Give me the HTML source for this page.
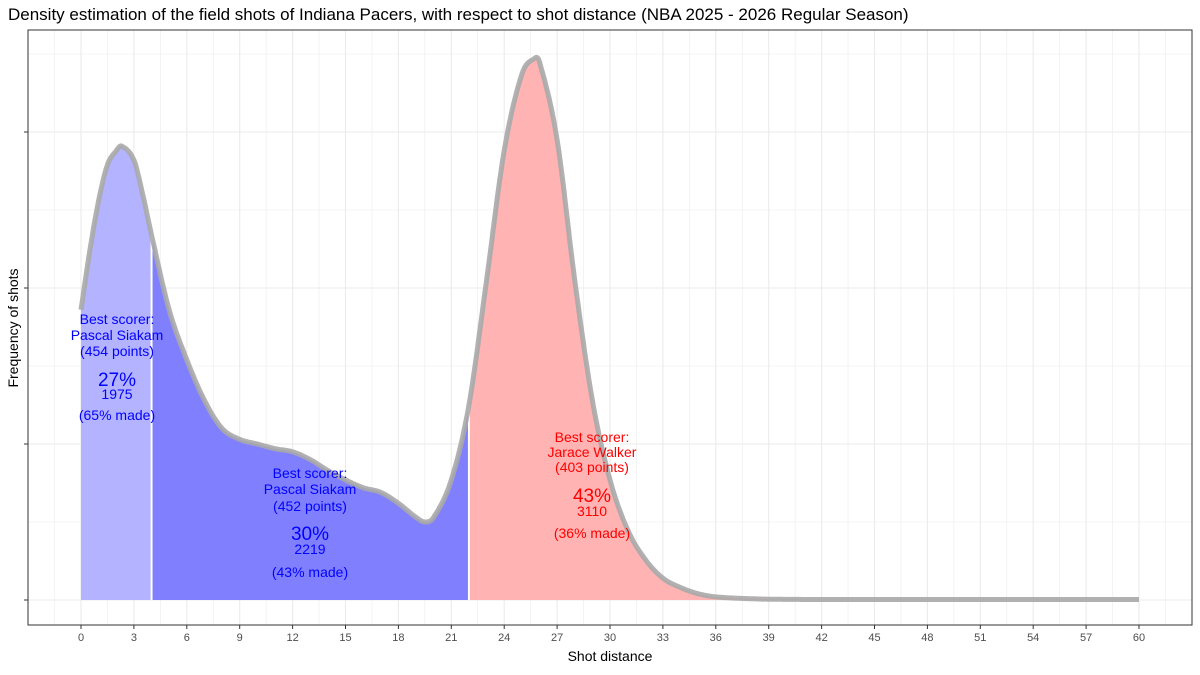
<!DOCTYPE html>
<html><head><meta charset="utf-8"><style>
body{margin:0;background:#fff;font-family:"Liberation Sans",Arial,sans-serif}
</style></head><body>
<svg id="chart" width="1200" height="670" xmlns="http://www.w3.org/2000/svg" font-family="Liberation Sans, Arial, sans-serif">
<text x="8" y="20" font-size="17" fill="#000">Density estimation of the field shots of Indiana Pacers, with respect to shot distance (NBA 2025 - 2026 Regular Season)</text>
<g id="grid"></g>
<g id="marks"></g>
<rect x="28" y="30" width="1164" height="595" fill="none" stroke="#333" stroke-width="1"/>
<g id="axes"></g>
<text x="610" y="661" font-size="14" text-anchor="middle">Shot distance</text>
<text transform="translate(18,328) rotate(-90)" font-size="14" text-anchor="middle">Frequency of shots</text>
<g id="annot"></g>
</svg>
<script>
const xs=[0,0.5,1,1.5,2,2.3,3,3.5,4,5,6,7,8,9,10,11,12,13,14,15,16,17,18,19,19.5,20,21,22,23,24,25,25.7,26,27,28,29,30,31,32,33,34,35,36,38,40,45,50,55,60];
const dens=[1.86,2.24,2.56,2.79,2.88,2.91,2.82,2.6,2.34,1.86,1.54,1.28,1.1,1.03,1.0,0.97,0.95,0.9,0.83,0.77,0.72,0.69,0.62,0.53,0.5,0.53,0.77,1.25,2.05,2.88,3.37,3.47,3.45,2.95,2.05,1.28,0.77,0.45,0.26,0.14,0.08,0.04,0.02,0.008,0.004,0.003,0.003,0.003,0.003];
const xTicks=[0,3,6,9,12,15,18,21,24,27,30,33,36,39,42,45,48,51,54,57,60];
const yTicks=[0,1,2,3];
const zoneBreaks=[0,4,22,60];
const zoneFills=["#b3b3ff","#8080ff","#ffb3b3"];
const NS="http://www.w3.org/2000/svg";
const X=v=>81+v*(1139-81)/60, Y=v=>600-v*156;
function mk(t,a,p){const e=document.createElementNS(NS,t);for(const k in a)e.setAttribute(k,a[k]);p.appendChild(e);return e;}
const grid=document.getElementById('grid'),marks=document.getElementById('marks'),axes=document.getElementById('axes');
mk('rect',{x:28,y:30,width:1164,height:595,fill:'#fff'},grid);
for(let v=-1.5;v<=61.5;v+=1.5){const major=Math.abs(v/3-Math.round(v/3))<1e-6;const px=X(v);if(px<28||px>1192)continue;
 const l=mk('line',{x1:px,x2:px,y1:30,y2:625,stroke:'#ebebeb','stroke-width':major?1.1:0.6},grid);
 
 }
for(let v=-0.5;v<=3.6;v+=0.5){const px=Y(v);if(px<30||px>625)continue;const major=Math.abs(v-Math.round(v))<1e-6;
 const l=mk('line',{x1:28,x2:1192,y1:px,y2:px,stroke:'#ebebeb','stroke-width':major?1.1:0.6},grid);
 
 }
// smooth interpolation (monotone-free catmull-rom sampling)
function f(x){let i=0;while(i<xs.length-2&&x>xs[i+1])i++;const x0=xs[i],x1=xs[i+1];const t=(x-x0)/(x1-x0);
 const p0=dens[Math.max(i-1,0)],p1=dens[i],p2=dens[i+1],p3=dens[Math.min(i+2,dens.length-1)];
 const h=x1-x0;const m1=(p2-dens[Math.max(i-1,0)])/(x1-xs[Math.max(i-1,0)])*h,m2=(p3-p1)/(xs[Math.min(i+2,xs.length-1)]-x0)*h;
 const t2=t*t,t3=t2*t;return (2*t3-3*t2+1)*p1+(t3-2*t2+t)*m1+(-2*t3+3*t2)*p2+(t3-t2)*m2;}
for(let z=0;z<3;z++){const a=zoneBreaks[z],b=zoneBreaks[z+1];let d=`M${X(a)},${Y(0)}`;
 for(let x=a;x<=b+1e-9;x+=0.05)d+=`L${X(x).toFixed(1)},${Y(f(x)).toFixed(1)}`;d+=`L${X(b)},${Y(0)}Z`;
 const p=mk('path',{d:d,fill:zoneFills[z],stroke:'none'},marks);
 
 }
for(const b of [4,22]){const l=mk('line',{x1:X(b),x2:X(b),y1:Y(0),y2:Y(f(b)),stroke:'#fff','stroke-width':2},marks);
 
 }
let d='';for(let x=0;x<=60.001;x+=0.05)d+=(x?'L':'M')+X(x).toFixed(1)+','+Y(f(x)).toFixed(1);
const c=mk('path',{d:d,fill:'none',stroke:'#a8a8a8','stroke-width':5,'stroke-opacity':0.9,'stroke-linejoin':'round'},marks);


for(const v of xTicks){mk('line',{x1:X(v),x2:X(v),y1:625,y2:629,stroke:'#333'},axes);
 const t=mk('text',{x:X(v),y:641,'font-size':11,'text-anchor':'middle',fill:'#4d4d4d'},axes);t.textContent=v;
 
 }
for(const v of yTicks){const l=mk('line',{x1:24,x2:28,y1:Y(v),y2:Y(v),stroke:'#333'},axes);
 
 }
const an=document.getElementById('annot');
const labels=[
 [117,[["Best scorer:",324,14],["Pascal Siakam",340,14],["(454 points)",356,14],["27%",386,19],["1975",399,14],["(65% made)",420,14]],'#0000ff'],
 [310,[["Best scorer:",478,14],["Pascal Siakam",494,14],["(452 points)",511,14],["30%",540,19],["2219",554,14],["(43% made)",577,14]],'#0000ff'],
 [592,[["Best scorer:",442,14],["Jarace Walker",457,14],["(403 points)",472,14],["43%",502,19],["3110",516,14],["(36% made)",538,14]],'#ff0000']];
for(const [cx,lines,col] of labels){for(const [s,y,fs] of lines){const t=mk('text',{x:cx,y:y,'font-size':fs,'text-anchor':'middle',fill:col},an);t.textContent=s;
 
 }}
</script>
</body></html>
